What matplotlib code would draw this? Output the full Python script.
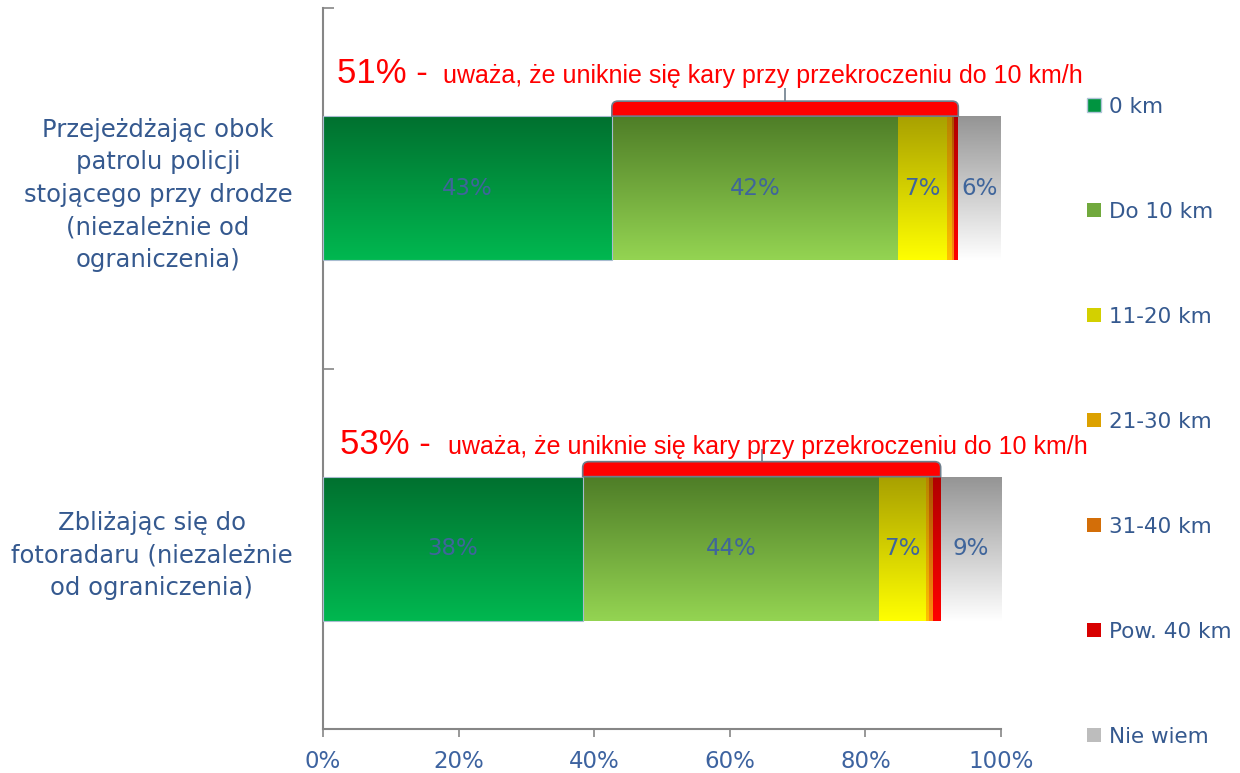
import matplotlib
matplotlib.use("Agg")
import matplotlib.pyplot as plt
import numpy as np
from matplotlib.colors import LinearSegmentedColormap, to_rgb
from matplotlib.patches import Patch, PathPatch
from matplotlib.path import Path

# dane
kategorie = ["Przejeżdżając obok\npatrolu policji\nstojącego przy drodze\n(niezależnie od\nograniczenia)",
             "Zbliżając się do\nfotoradaru (niezależnie\nod ograniczenia)"]
serie = ["0 km", "Do 10 km", "11-20 km", "21-30 km", "31-40 km", "Pow. 40 km", "Nie wiem"]
wartosci = {
    "0 km":       [42.6, 38.3],
    "Do 10 km":   [42.2, 43.7],
    "11-20 km":   [7.3, 6.9],
    "21-30 km":   [0.6, 0.5],
    "31-40 km":   [0.3, 0.5],
    "Pow. 40 km": [0.7, 1.2],
    "Nie wiem":   [6.3, 8.9],
}
naglowki = ["51%", "53%"]
opis = "uważa, że uniknie się kary przy przekroczeniu do 10 km/h"

# kolory gradientow (gora, dol)
kolory = {
    "0 km":       ("#00702F", "#00B850"),
    "Do 10 km":   ("#4E7D27", "#94D452"),
    "11-20 km":   ("#A8A000", "#FFFF00"),
    "21-30 km":   ("#B88200", "#FFC000"),
    "31-40 km":   ("#A85000", "#FF8C10"),
    "Pow. 40 km": ("#B00000", "#FF0000"),
    "Nie wiem":   ("#949494", "#FFFFFF"),
}
NIEBIESKI = "#35598F"
SZARY = "#868686"

plt.rcParams['font.family'] = ['DejaVu Sans']

fig = plt.figure(figsize=(12.4, 7.73), dpi=100)
ax = fig.add_axes([323/1240, 1-729/773, (1001-323)/1240, (729-8)/773])

y = np.arange(len(kategorie))
wys = 0.4
lewo = np.zeros(len(kategorie))
grad = np.linspace(0, 1, 256).reshape(-1, 1)
for s in serie:
    v = np.array(wartosci[s])
    bars = ax.barh(y, v, height=wys, left=lewo, facecolor='none',
                   edgecolor='#A8BCD0' if s == "0 km" else 'none', linewidth=0.8, zorder=3)
    cmap = LinearSegmentedColormap.from_list(s, list(kolory[s]))
    for p in bars.patches:
        x0, y0, w, h = p.get_x(), p.get_y(), p.get_width(), p.get_height()
        im = ax.imshow(grad, extent=[x0, x0 + w, y0 + h, y0], aspect='auto',
                       cmap=cmap, origin='upper', zorder=2, interpolation='bilinear')
        im.set_clip_path(p)
    etyk = [f"{x:.0f}%" if x >= 3 else "" for x in v]
    ax.bar_label(bars, labels=etyk, label_type='center', color='#3F659B', fontsize=16.5, zorder=5)
    lewo = lewo + v

ax.set_xlim(0, 100)
ax.set_ylim(1.5, -0.5)

# nawiasy nad slupkami
px_x = 100 / (1001 - 323)
px_y = 2 / (729 - 8)
poz_tekstu = [(2.0, 17.7, 0.092), (2.5, 18.4, 0.062)]
for i in range(len(kategorie)):
    x0 = wartosci["0 km"][i]
    x1 = sum(wartosci[s][i] for s in serie[:-1])
    dol = y[i] - wys / 2
    gora = dol - 15 * px_y
    rx, ry = 6 * px_x, 6 * px_y
    verts = [(x0, dol), (x0, gora + ry), (x0, gora), (x0 + rx, gora),
             (x1 - rx, gora), (x1, gora), (x1, gora + ry), (x1, dol), (x0, dol)]
    codes = [Path.MOVETO, Path.LINETO, Path.CURVE3, Path.CURVE3,
             Path.LINETO, Path.CURVE3, Path.CURVE3, Path.LINETO, Path.CLOSEPOLY]
    ax.add_patch(PathPatch(Path(verts, codes), facecolor='#FF0000', edgecolor='#6E7E8C',
                           linewidth=1.2, zorder=6, clip_on=False))
    xc = (x0 + x1) / 2
    ax.plot([xc, xc], [gora, gora - 13 * px_y], color='#6E7E8C', linewidth=1.2,
            zorder=6, clip_on=False, solid_capstyle='butt')
    tx1, tx2, dy = poz_tekstu[i]
    ax.text(tx1, dol - dy, naglowki[i] + " -", color='#FF0000', fontsize=25,
            family='Liberation Sans', va='baseline', ha='left', zorder=7)
    ax.text(tx2, dol - dy, opis, color='#FF0000', fontsize=18,
            family='Liberation Sans', va='baseline', ha='left', zorder=7)

# osie
for k in ['top', 'right']:
    ax.spines[k].set_visible(False)
for k in ['left', 'bottom']:
    ax.spines[k].set_color(SZARY)
    ax.spines[k].set_linewidth(1.5)
ax.set_xticks(np.arange(0, 101, 20))
ax.set_xticklabels([f"{t}%" for t in range(0, 101, 20)])
ax.tick_params(axis='x', direction='out', length=6, width=1.2, color=SZARY,
               labelcolor='#3D63A0', labelsize=16.5, pad=9)
ax.set_yticks([-0.5, 0.5, 1.5])
ax.set_yticklabels([])
ax.tick_params(axis='y', which='major', direction='in', length=8, width=1.2, color=SZARY)
ax.set_yticks(y, minor=True)
ax.set_yticklabels(kategorie, minor=True, fontsize=17.5, color=NIEBIESKI,
                   multialignment='center', linespacing=1.45)
ax.tick_params(axis='y', which='minor', length=0, pad=22)

# legenda
def sredni(s):
    return (np.array(to_rgb(kolory[s][0])) + np.array(to_rgb(kolory[s][1]))) / 2

uchwyty = [Patch(facecolor=sredni(s), edgecolor='#B0C4D8' if s == "0 km" else 'none')
           for s in serie]
uchwyty[-1] = Patch(facecolor='#BDBDBD', edgecolor='none')
fig.legend(uchwyty, serie, loc='upper left', bbox_to_anchor=(1078/1240, 1-88/773),
           frameon=False, fontsize=15.5, labelcolor=NIEBIESKI, handlelength=0.65,
           handleheight=0.65, handletextpad=0.4, labelspacing=3.95, borderaxespad=0)

fig.savefig("out.png", dpi=100)
